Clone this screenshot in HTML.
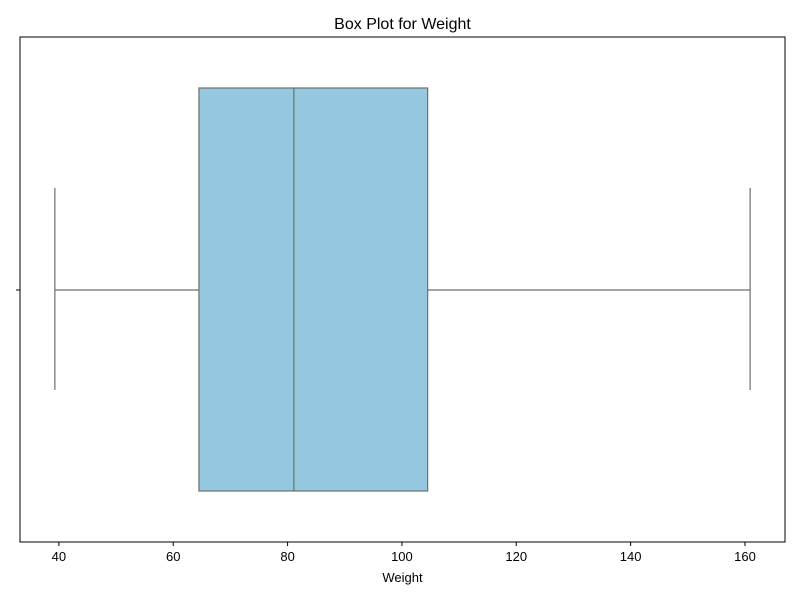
<!DOCTYPE html>
<html><head><meta charset="utf-8"><style>
html,body{margin:0;padding:0;background:#fff;}
svg{display:block;font-family:"Liberation Sans","DejaVu Sans",sans-serif;}
</style></head><body>
<svg id="chart" width="800" height="600"></svg>
<script>
const statNames = ["min","q1","median","q3","max"];
const statValues = [39.3, 64.5, 81.1, 104.5, 160.9];
const tickValues = [40, 60, 80, 100, 120, 140, 160];
const tickLabels = ["40","60","80","100","120","140","160"];

const L=20,R=785,T=37,B=542;
const dMin=33.2,dMax=167.0;
function xs(v){return L+(v-dMin)/(dMax-dMin)*(R-L);}
const svg=document.getElementById('chart');
const NS='http://www.w3.org/2000/svg';
function mk(tag,attrs,parent){const e=document.createElementNS(NS,tag);for(const k in attrs)e.setAttribute(k,attrs[k]);(parent||svg).appendChild(e);return e;}
const s={};statNames.forEach((n,i)=>s[n]=statValues[i]);
const cy=290, boxTop=88, boxBot=491, capTop=188, capBot=390;
const g=mk('g',{});


let e;
e=mk('line',{x1:xs(s.min),x2:xs(s.q1),y1:cy,y2:cy,stroke:'#6e6e6e','stroke-width':1.2},g);


e=mk('line',{x1:xs(s.q3),x2:xs(s.max),y1:cy,y2:cy,stroke:'#6e6e6e','stroke-width':1.2},g);


e=mk('line',{x1:xs(s.min),x2:xs(s.min),y1:capTop,y2:capBot,stroke:'#6e6e6e','stroke-width':1.2},g);


e=mk('line',{x1:xs(s.max),x2:xs(s.max),y1:capTop,y2:capBot,stroke:'#6e6e6e','stroke-width':1.2},g);


e=mk('rect',{x:xs(s.q1),y:boxTop,width:xs(s.q3)-xs(s.q1),height:boxBot-boxTop,fill:'#94c8de',stroke:'#6e6e6e','stroke-width':1.2},g);


e=mk('line',{x1:xs(s.median),x2:xs(s.median),y1:boxTop,y2:boxBot,stroke:'#6e6e6e','stroke-width':1.2},g);


e=mk('rect',{x:L,y:T,width:R-L,height:B-T,fill:'none',stroke:'#000','stroke-width':1});


tickValues.forEach((v,i)=>{
  const t=mk('line',{x1:xs(v),x2:xs(v),y1:B,y2:B+4,stroke:'#000','stroke-width':1});
  
  
  const lb=mk('text',{x:xs(v),y:B+19,'text-anchor':'middle','font-size':13,fill:'#000'});
  lb.textContent=tickLabels[i];
  
  
});
e=mk('line',{x1:L-4,x2:L,y1:cy,y2:cy,stroke:'#000','stroke-width':1});


e=mk('text',{x:(L+R)/2,y:582,'text-anchor':'middle','font-size':13,fill:'#000'});
e.textContent='Weight';


e=mk('text',{x:(L+R)/2,y:29,'text-anchor':'middle','font-size':16,fill:'#000'});
e.textContent='Box Plot for Weight';


</script>
</body></html>
